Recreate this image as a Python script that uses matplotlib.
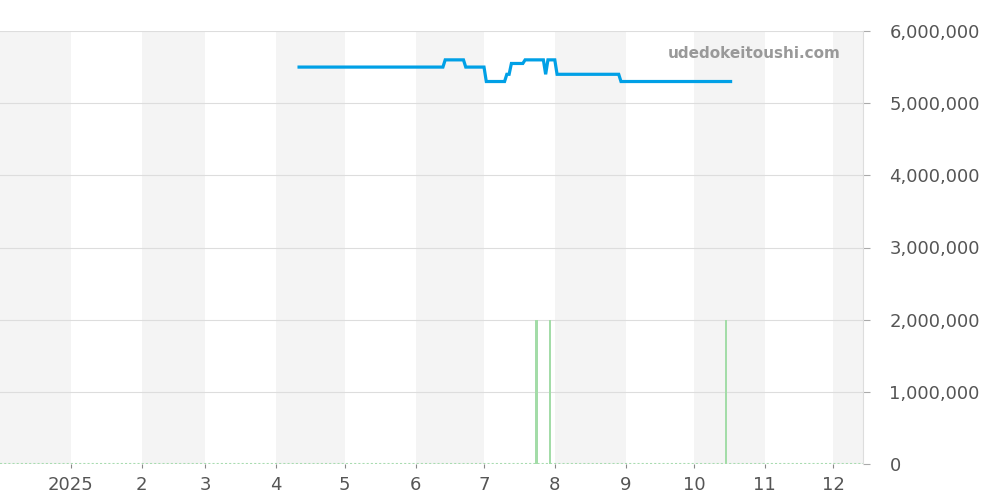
import numpy as np
import pandas as pd
import matplotlib
matplotlib.use("Agg")
import matplotlib.pyplot as plt
import matplotlib.dates as mdates
from matplotlib.ticker import FuncFormatter

# price steps (date, yen)
price_dates = ["2025-04-11", "2025-06-13", "2025-06-14", "2025-06-22", "2025-06-23",
               "2025-07-01", "2025-07-02", "2025-07-10", "2025-07-11", "2025-07-12",
               "2025-07-13", "2025-07-18", "2025-07-19", "2025-07-27", "2025-07-28",
               "2025-07-29", "2025-08-01", "2025-08-02", "2025-08-29", "2025-08-30",
               "2025-10-17"]
price_values = [5500000, 5500000, 5600000, 5600000, 5500000,
                5500000, 5300000, 5300000, 5400000, 5400000,
                5550000, 5550000, 5600000, 5600000, 5400000,
                5600000, 5600000, 5400000, 5400000, 5300000,
                5300000]

# listing volume spikes
bar_dates = ["2025-07-24", "2025-07-30", "2025-10-15"]
bar_values = [2000000, 2000000, 2000000]

x_start, x_end = "2024-12-01", "2025-12-14"
month_labels = ["2025", "2", "3", "4", "5", "6", "7", "8", "9", "10", "11", "12"]
y_ticks = [0, 1000000, 2000000, 3000000, 4000000, 5000000, 6000000]

fig = plt.figure(figsize=(10, 5), dpi=100)
ax = fig.add_axes([0.0, 0.072, 0.863, 0.866])

# alternating month bands
months = pd.date_range("2024-12-01", "2026-01-01", freq="MS")
for i in range(len(months) - 1):
    if i % 2 == 0:
        ax.axvspan(months[i], months[i + 1], color="#f4f4f4", lw=0, zorder=0)

ax.grid(axis="y", color="#dddddd", lw=0.8, zorder=1)

ax.axhline(0, color="#a8dcb0", lw=1.5, ls=(0, (1, 1)), zorder=2)
ax.bar(pd.to_datetime(bar_dates), bar_values, width=0.9, color="#a3dca8", zorder=2)

ax.plot(pd.to_datetime(price_dates), price_values, color="#00a0e6", lw=2.3,
        solid_joinstyle="miter", zorder=3)

ax.set_xlim(pd.Timestamp(x_start), pd.Timestamp(x_end))
ax.set_ylim(0, 6000000)

ax.set_xticks(pd.date_range("2025-01-01", "2025-12-01", freq="MS"))
ax.set_xticklabels(month_labels)
ax.yaxis.tick_right()
ax.set_yticks(y_ticks)
ax.yaxis.set_major_formatter(FuncFormatter(lambda v, p: f"{int(v):,}"))
ax.tick_params(axis="x", colors="#888888", labelcolor="#555555", labelsize=13,
               length=3, pad=6)
ax.tick_params(axis="y", colors="#aaaaaa", labelcolor="#555555", labelsize=13,
               length=5, pad=14)

for s in ["top", "left", "bottom"]:
    ax.spines[s].set_visible(False)
ax.spines["right"].set_color("#dddddd")

ax.text(0.974, 0.948, "udedokeitoushi.com", transform=ax.transAxes, ha="right",
        va="center", fontsize=11, fontweight="bold", color="#999999")

fig.savefig("out.png", dpi=100)
